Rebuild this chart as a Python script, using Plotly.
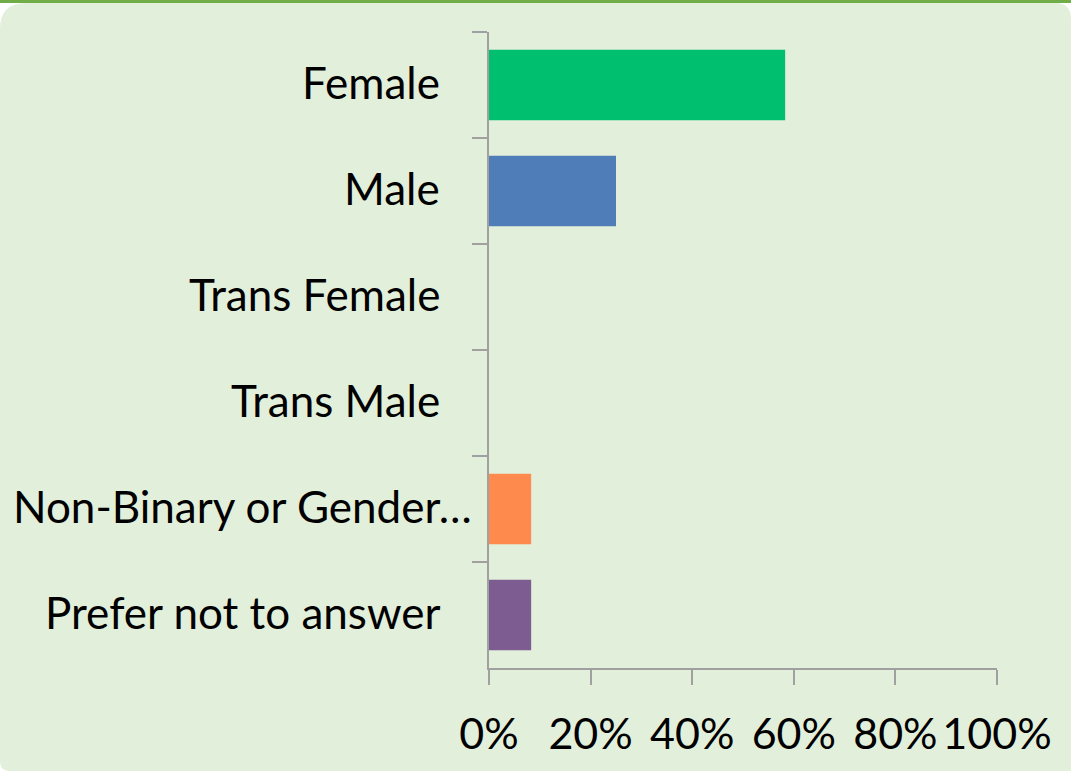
import plotly.graph_objects as go

categories = ["Female", "Male", "Trans Female", "Trans Male",
              "Non-Binary or Gender…", "Prefer not to answer"]
values = [0.583, 0.25, 0.0, 0.0, 0.083, 0.083]
colors = ["#00BF6F", "#4F7DB7", "#A5A5A5", "#FFC000", "#FF8A4E", "#7D5D91"]
x_ticks = [0, 0.2, 0.4, 0.6, 0.8, 1.0]
x_tick_labels = ["0%", "20%", "40%", "60%", "80%", "100%"]

W, H = 1071, 771
ML, MR, MT, MB = 489, 74, 32, 103
PW, PH = W - ML - MR, H - MT - MB
FONT = "Lato, Calibri, sans-serif"


def px(x):
    return (x - ML) / PW


def py(y):
    return (H - MB - y) / PH


def rounded_path(x0, y0, x1, y1, rtl, rtr, rbr, rbl):
    pts = []
    pts.append(f"M {px(x0 + rtl)},{py(y0)}")
    pts.append(f"L {px(x1 - rtr)},{py(y0)}")
    pts.append(f"Q {px(x1)},{py(y0)} {px(x1)},{py(y0 + rtr)}")
    pts.append(f"L {px(x1)},{py(y1 - rbr)}")
    pts.append(f"Q {px(x1)},{py(y1)} {px(x1 - rbr)},{py(y1)}")
    pts.append(f"L {px(x0 + rbl)},{py(y1)}")
    pts.append(f"Q {px(x0)},{py(y1)} {px(x0)},{py(y1 - rbl)}")
    pts.append(f"L {px(x0)},{py(y0 + rtl)}")
    pts.append(f"Q {px(x0)},{py(y0)} {px(x0 + rtl)},{py(y0)}")
    pts.append("Z")
    return " ".join(pts)


fig = go.Figure()
fig.add_trace(go.Bar(
    x=values, y=categories, orientation="h",
    marker=dict(color=colors, line=dict(width=0)),
    hoverinfo="skip",
))

shapes = [
    dict(type="path", xref="paper", yref="paper",
         path=rounded_path(0, 3, 1071, 771, 26, 16, 0, 10),
         fillcolor="#E2EFDA", line=dict(width=0), layer="below"),
    dict(type="rect", xref="paper", yref="paper",
         x0=px(0), x1=px(W), y0=py(0), y1=py(3),
         fillcolor="#70AD47", line=dict(width=0), layer="below"),
]

annotations = []
for cat in categories:
    right = 474 if cat.endswith("…") else 442
    annotations.append(dict(
        text=cat, xref="paper", x=px(right), xanchor="right",
        yref="y", y=cat, yanchor="middle", showarrow=False, yshift=3,
        font=dict(family=FONT, size=44, color="black"),
    ))

fig.update_layout(
    width=W, height=H,
    margin=dict(l=ML, r=MR, t=MT, b=MB, pad=0),
    paper_bgcolor="white",
    plot_bgcolor="rgba(0,0,0,0)",
    showlegend=False,
    bargap=0.333,
    shapes=shapes,
    annotations=annotations,
    font=dict(family=FONT, size=44, color="black"),
    xaxis=dict(
        range=[0, 1], tickvals=x_ticks, ticktext=x_tick_labels,
        tickfont=dict(family=FONT, size=43, color="black"),
        showgrid=False, zeroline=False,
        showline=True, linecolor="#A0A0A0", linewidth=2,
        ticks="outside", ticklen=15, tickwidth=2, tickcolor="#A0A0A0",
        ticklabelstandoff=12,
        automargin=False,
    ),
    yaxis=dict(
        categoryorder="array", categoryarray=categories,
        autorange="reversed",
        showgrid=False, zeroline=False,
        showline=True, linecolor="#A0A0A0", linewidth=2,
        ticks="outside", ticklen=15, tickwidth=2, tickcolor="#A0A0A0",
        tickson="boundaries",
        showticklabels=False,
        automargin=False,
    ),
)

fig.write_html(
    "out.html",
    config={"displayModeBar": False},
    post_script="document.body.style.margin='0';document.body.style.padding='0';",
)
